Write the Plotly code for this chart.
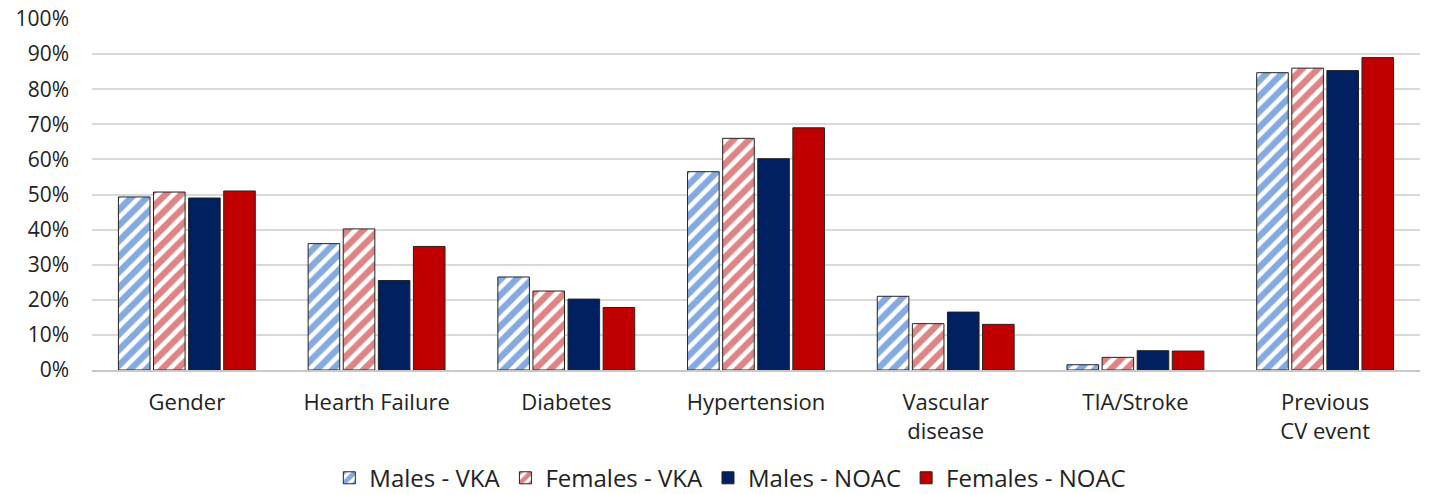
import plotly.graph_objects as go

categories = ["Gender", "Hearth Failure", "Diabetes", "Hypertension",
              "Vascular<br>disease", "TIA/Stroke", "Previous<br>CV event"]
males_vka = [49.3, 36.0, 26.5, 56.5, 21.0, 1.5, 84.7]
females_vka = [50.7, 40.2, 22.5, 66.0, 13.2, 3.6, 86.0]
males_noac = [49.0, 25.5, 20.2, 60.2, 16.5, 5.5, 85.3]
females_noac = [51.0, 35.2, 17.8, 69.0, 13.0, 5.4, 89.0]
tick_vals = [0, 10, 20, 30, 40, 50, 60, 70, 80, 90, 100]
tick_text = [f"{v}%" for v in tick_vals]

series = [
    ("Males - VKA", males_vka, dict(color="white", pattern=dict(shape="/", fgcolor="#0a56c0", bgcolor="white", size=11, solidity=0.58))),
    ("Females - VKA", females_vka, dict(color="white", pattern=dict(shape="/", fgcolor="#c00a0a", bgcolor="white", size=11, solidity=0.58))),
    ("Males - NOAC", males_noac, dict(color="#002060")),
    ("Females - NOAC", females_noac, dict(color="#C00000")),
]

fig = go.Figure()
for name, vals, m in series:
    m = dict(m)
    m["line"] = dict(color="#222222", width=1)
    fig.add_trace(go.Bar(name=name, x=categories, y=vals, marker=m))

fig.update_layout(
    width=1432, height=494,
    barmode="group", bargap=0.26, bargroupgap=0.1,
    paper_bgcolor="white", plot_bgcolor="white",
    font=dict(family="Open Sans, sans-serif", size=22, color="#222222"),
    margin=dict(l=92, r=12, t=19, b=124, autoexpand=False),
    legend=dict(orientation="h", xref="container", x=0.51, xanchor="center",
                yref="container", y=0.032, yanchor="middle",
                font=dict(size=24), traceorder="normal", itemwidth=30),
    showlegend=True,
)
fig.update_yaxes(range=[0, 100], tickvals=tick_vals, ticktext=tick_text,
                 showgrid=True, gridcolor="#d9d9d9", gridwidth=1.5, zeroline=False,
                 ticks="", ticklen=0, showline=False, automargin=False,
                 tickfont=dict(size=21), ticklabelstandoff=22)
fig.update_xaxes(showline=True, linecolor="#c8c8c8", linewidth=1.5, ticks="",
                 tickfont=dict(size=22), automargin=False, ticklabelstandoff=12)

fig.write_html("out.html", config={"displayModeBar": False},
               post_script="document.body.style.margin='0';")
